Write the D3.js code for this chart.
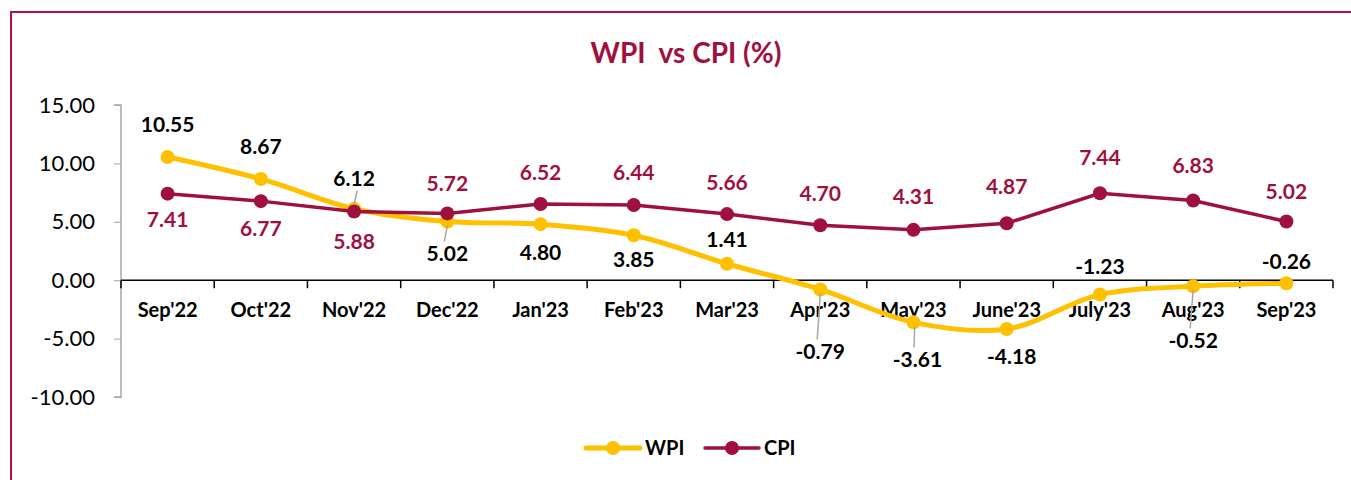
<!DOCTYPE html>
<html>
<head>
<meta charset="utf-8">
<script src="https://cdn.jsdelivr.net/npm/d3@7"></script>
<style>
  body { margin: 0; background: #fff; }
  svg text { font-family: "Lato", "Open Sans", sans-serif; }
</style>
</head>
<body>
<div id="picture"></div>
<script>
var months = ["Sep'22", "Oct'22", "Nov'22", "Dec'22", "Jan'23", "Feb'23", "Mar'23",
              "Apr'23", "May'23", "June'23", "July'23", "Aug'23", "Sep'23"];
var wpi = [10.55, 8.67, 6.12, 5.02, 4.80, 3.85, 1.41, -0.79, -3.61, -4.18, -1.23, -0.52, -0.26];
var cpi = [7.41, 6.77, 5.88, 5.72, 6.52, 6.44, 5.66, 4.70, 4.31, 4.87, 7.44, 6.83, 5.02];
var yTicks = [15, 10, 5, 0, -5, -10];

// label placement (pixels from the point), leader = draw a grey connector
var wpiLabelPos = [
    {dx: 0, dy: -32}, {dx: 0, dy: -32}, {dx: 0, dy: -30, leader: true}, {dx: 0, dy: 32, leader: true},
    {dx: 0, dy: 29}, {dx: 0, dy: 24}, {dx: 0, dy: -24}, {dx: 0, dy: 62, leader: true},
    {dx: 4, dy: 37, leader: true}, {dx: 5, dy: 28}, {dx: 0, dy: -28}, {dx: 0, dy: 54, leader: true},
    {dx: 0, dy: -22}
];
var cpiLabelPos = [
    {dx: 0, dy: 26}, {dx: 0, dy: 28}, {dx: 0, dy: 30}, {dx: 0, dy: -30}, {dx: 0, dy: -31},
    {dx: 0, dy: -32}, {dx: 0, dy: -31}, {dx: 0, dy: -32}, {dx: 0, dy: -33}, {dx: 0, dy: -37},
    {dx: 0, dy: -36}, {dx: 0, dy: -35}, {dx: 0, dy: -30}
];

var width = 1351, height = 480;
var WPI_COLOR = "#FFC000", CPI_COLOR = "#A0103E";
var fmt = function (v) { return d3.format(".2f")(v).replace("\u2212", "-"); };

var svg = d3.select("#picture").append("svg")
    .attr("width", width).attr("height", height);

// border (top and left only visible)
svg.append("path")
    .attr("d", "M11,480 V12 H1351")
    .attr("fill", "none").attr("stroke", "#B5103F").attr("stroke-width", 2);

svg.append("text")
    .text("WPI  vs CPI (%)")
    .attr("x", 686).attr("y", 63)
    .attr("text-anchor", "middle")
    .attr("font-size", 28).attr("font-weight", "bold")
    .attr("fill", CPI_COLOR)
    .style("white-space", "pre");

var x = d3.scaleBand().domain(months).range([121, 1333]);
var y = d3.scaleLinear().domain([-10, 15]).range([397, 105]);
var cx = function (i) { return x(months[i]) + x.bandwidth() / 2; };

// y axis
var yAxis = d3.axisLeft(y).tickValues(yTicks).tickSize(7).tickFormat(fmt);
var gy = svg.append("g").attr("transform", "translate(121,0)").call(yAxis);
gy.select(".domain").attr("stroke", "#A6A6A6").attr("stroke-width", 1.5)
    .attr("d", "M-7," + y(15) + "H0V" + y(-10) + "H-7");
gy.selectAll(".tick line").attr("stroke", "#A6A6A6");
gy.selectAll(".tick text").attr("x", -26).attr("font-size", 22).attr("fill", "#000")
    .style("font-family", "Lato, sans-serif");

// x axis at zero
var gx = svg.append("g").attr("transform", "translate(0," + y(0) + ")");
gx.append("line").attr("x1", 121).attr("x2", 1333).attr("stroke", "#000").attr("stroke-width", 1.5);
gx.selectAll(".xt").data(d3.range(months.length + 1)).enter().append("line")
    .attr("x1", function (i) { return 121 + i * x.bandwidth(); })
    .attr("x2", function (i) { return 121 + i * x.bandwidth(); })
    .attr("y1", 0).attr("y2", 8)
    .attr("stroke", "#000").attr("stroke-width", 1.5);
gx.selectAll(".xl").data(months).enter().append("text")
    .text(function (d) { return d; })
    .attr("x", function (d, i) { return cx(i); })
    .attr("y", 37)
    .attr("text-anchor", "middle")
    .attr("font-size", 20).attr("font-weight", "bold").attr("fill", "#000");

// WPI (smoothed)
var smooth = d3.line().x(function (d, i) { return cx(i); }).y(function (d) { return y(d); })
    .curve(d3.curveCatmullRom.alpha(0.5));
svg.append("path").attr("d", smooth(wpi))
    .attr("fill", "none").attr("stroke", WPI_COLOR).attr("stroke-width", 5);
svg.selectAll(".wdot").data(wpi).enter().append("circle")
    .attr("cx", function (d, i) { return cx(i); }).attr("cy", function (d) { return y(d); })
    .attr("r", 7).attr("fill", WPI_COLOR);

// CPI
var straight = d3.line().x(function (d, i) { return cx(i); }).y(function (d) { return y(d); });
svg.append("path").attr("d", straight(cpi))
    .attr("fill", "none").attr("stroke", CPI_COLOR).attr("stroke-width", 3.5);
svg.selectAll(".cdot").data(cpi).enter().append("circle")
    .attr("cx", function (d, i) { return cx(i); }).attr("cy", function (d) { return y(d); })
    .attr("r", 7).attr("fill", CPI_COLOR);

// leader lines for WPI labels
wpi.forEach(function (d, i) {
    var p = wpiLabelPos[i];
    if (!p.leader) return;
    var px = cx(i), py = y(d);
    var sign = p.dy > 0 ? 1 : -1;
    svg.append("line")
        .attr("x1", px + p.dx * 0.3).attr("y1", py + sign * 4)
        .attr("x2", px + p.dx * 0.9 - sign * 3).attr("y2", py + p.dy - sign * 12)
        .attr("stroke", "#A6A6A6").attr("stroke-width", 1.5);
});

function labels(data, pos, color) {
    svg.append("g").selectAll("text").data(data).enter().append("text")
        .text(function (d) { return fmt(d); })
        .attr("x", function (d, i) { return cx(i) + pos[i].dx; })
        .attr("y", function (d, i) { return y(d) + pos[i].dy; })
        .attr("dy", "0.35em")
        .attr("text-anchor", "middle")
        .attr("font-size", 21).attr("font-weight", "bold")
        .attr("fill", color);
}
labels(wpi, wpiLabelPos, "#000");
labels(cpi, cpiLabelPos, CPI_COLOR);

// legend
var legend = [
    {name: "WPI", color: WPI_COLOR, w: 5, x: 586},
    {name: "CPI", color: CPI_COLOR, w: 3.5, x: 705}
];
var lg = svg.append("g").attr("transform", "translate(0,448)");
legend.forEach(function (l) {
    lg.append("line").attr("x1", l.x).attr("x2", l.x + 54)
        .attr("stroke", l.color).attr("stroke-width", l.w).attr("stroke-linecap", "round");
    lg.append("circle").attr("cx", l.x + 27).attr("r", 7).attr("fill", l.color);
    lg.append("text").text(l.name).attr("x", l.x + 59).attr("dy", "0.35em")
        .attr("font-size", 20).attr("font-weight", "bold").attr("fill", "#000");
});
</script>
</body>
</html>
